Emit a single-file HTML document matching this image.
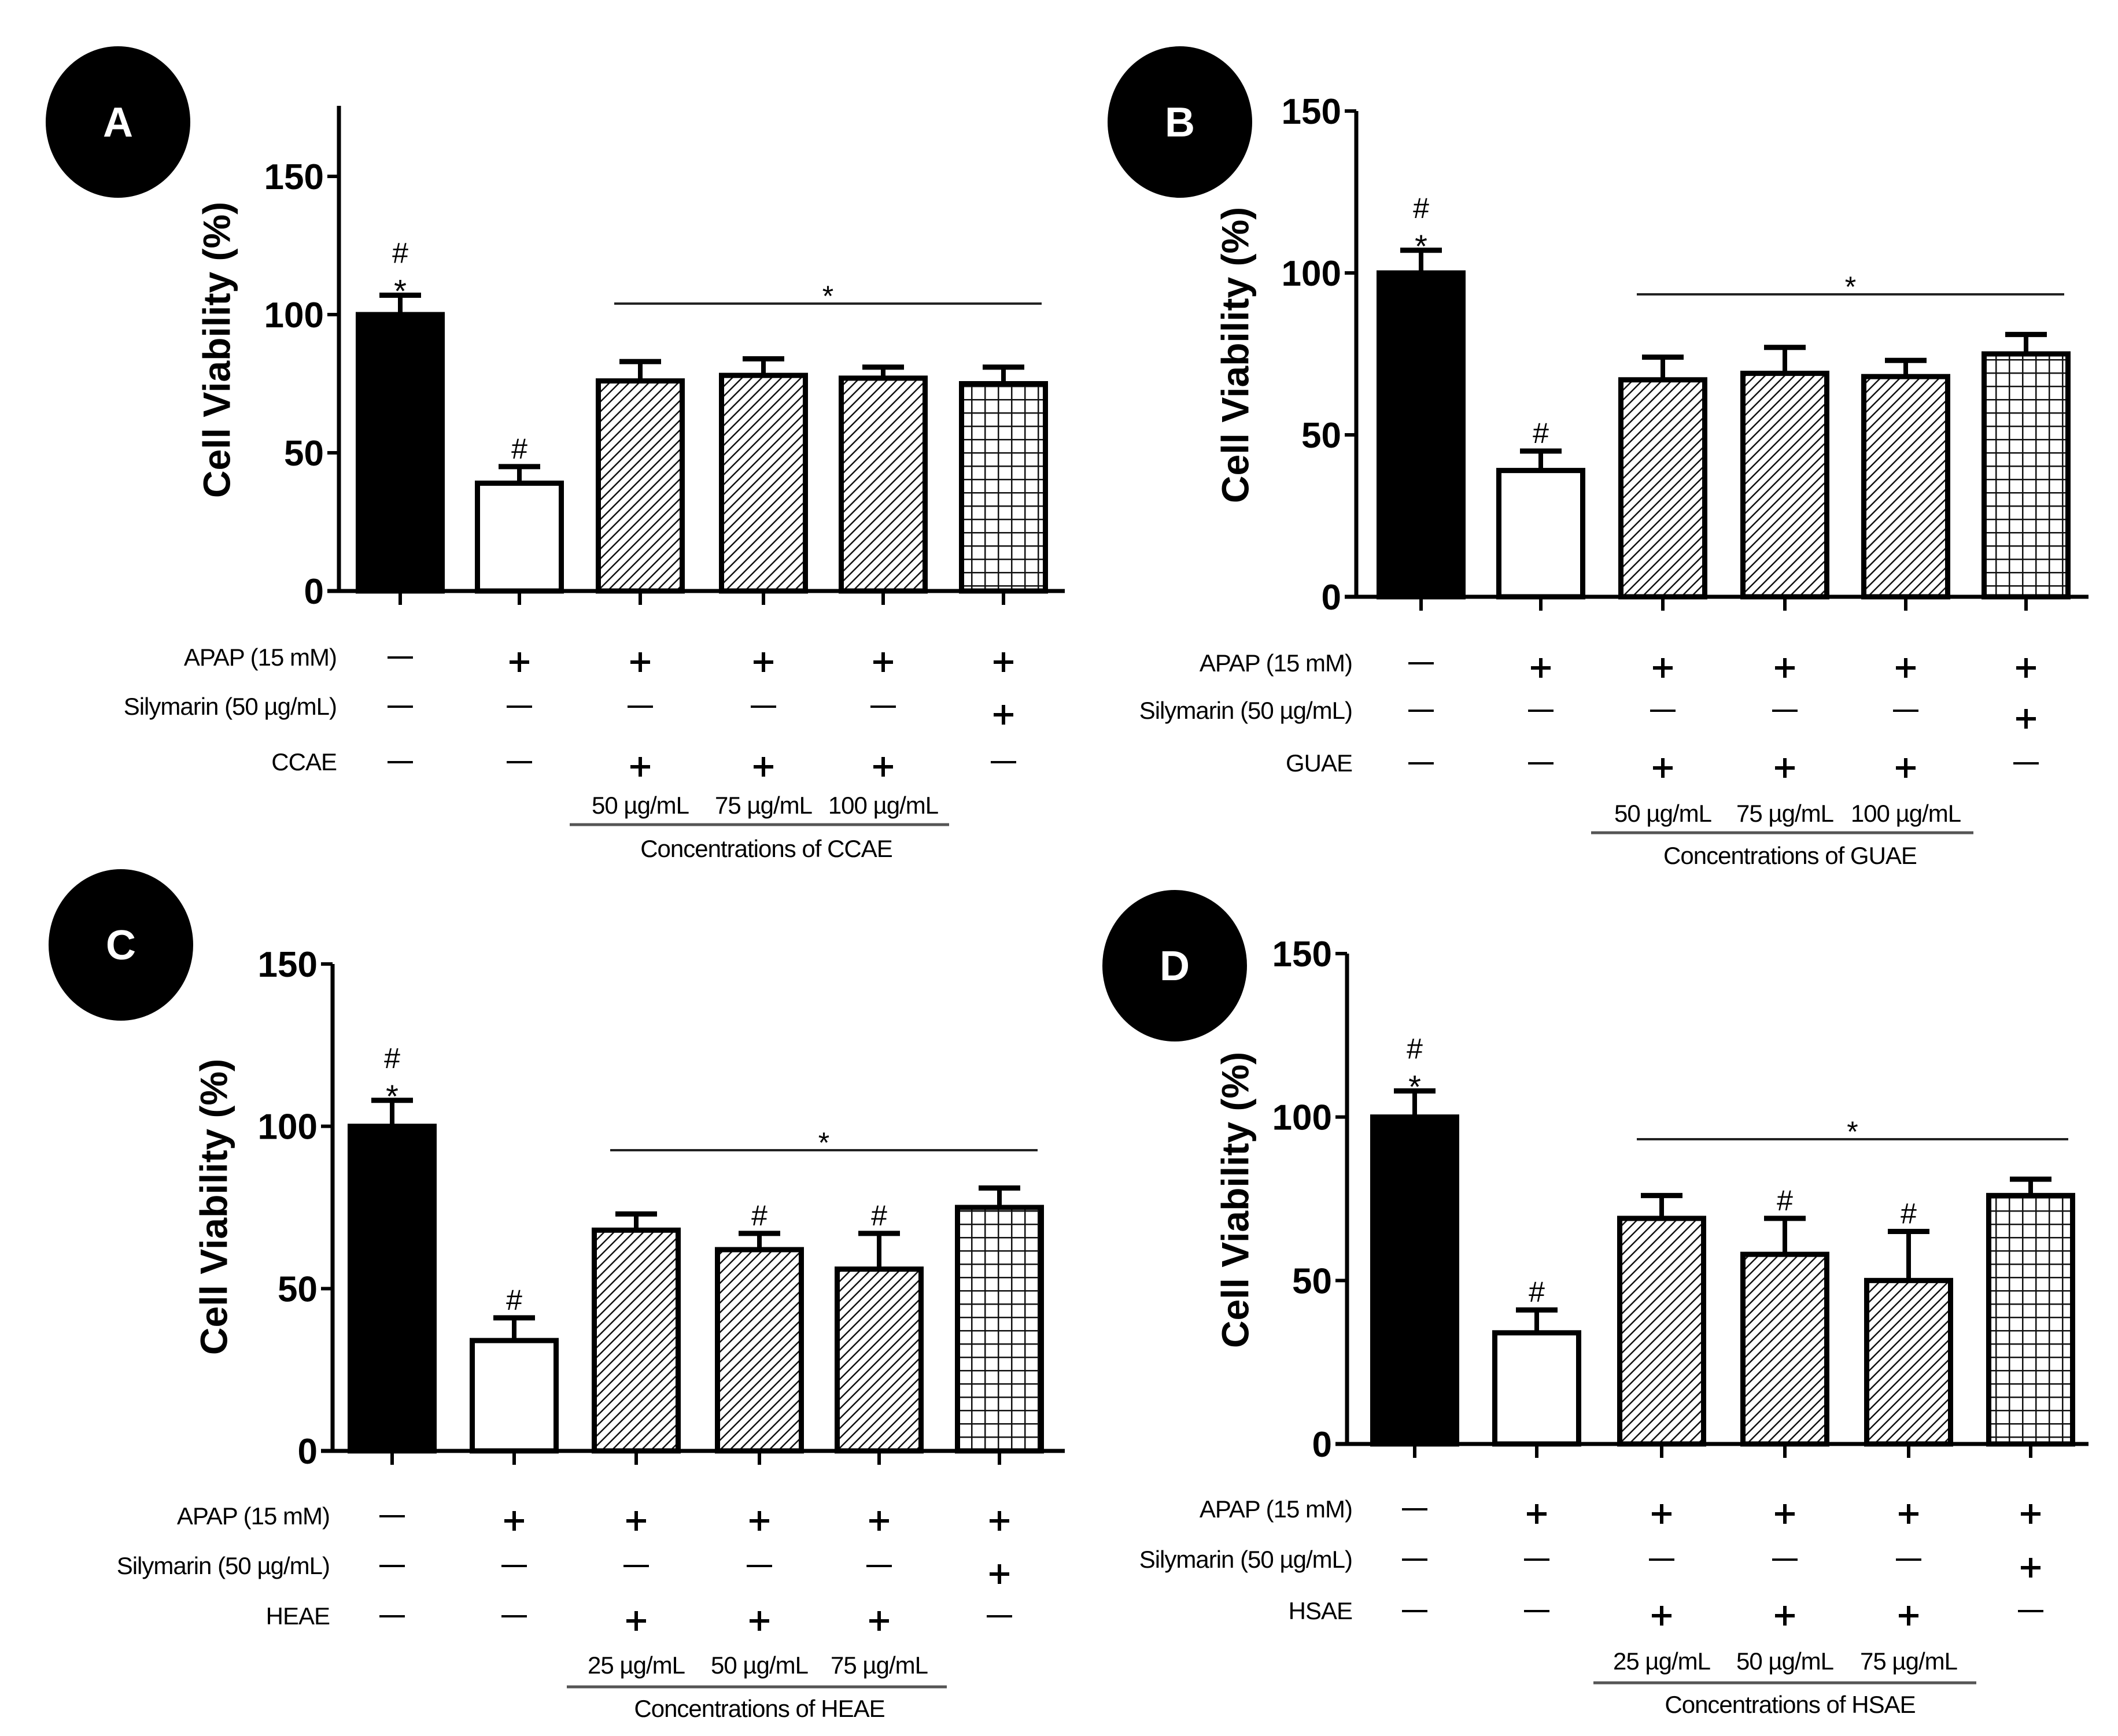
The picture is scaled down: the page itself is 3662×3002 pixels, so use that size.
<!DOCTYPE html>
<html><head><meta charset="utf-8"><style>
html,body{margin:0;padding:0;background:#fff}
svg{display:block}
text{font-family:"Liberation Sans",Arial,sans-serif}
</style></head><body>
<svg id="fig" width="3662" height="3002" viewBox="0 0 3662 3002" xmlns="http://www.w3.org/2000/svg">
<defs>
<pattern id="hatch" patternUnits="userSpaceOnUse" width="12" height="12" patternTransform="rotate(45)">
<rect width="12" height="12" fill="#fff"/><line x1="0" y1="0" x2="0" y2="12" stroke="#111" stroke-width="5"/></pattern>
<pattern id="grid" patternUnits="userSpaceOnUse" width="23" height="23">
<rect width="23" height="23" fill="#fff"/><path d="M0 0H23M0 0V23" stroke="#111" stroke-width="5"/></pattern>
</defs>
</svg>
<script>
const categories=["control","apap","ext1","ext2","ext3","silymarin"];
const valuesA=[100,39,76,78,77,75];
const errorsA=[7,6,7,6,4,6];
const valuesB=[100,39,67,69,68,75];
const errorsB=[7,6,7,8,5,6];
const valuesC=[100,34,68,62,56,75];
const errorsC=[8,7,5,5,11,6];
const valuesD=[100,34,69,58,50,76];
const errorsD=[8,7,7,11,15,5];
const yTicks=[0,50,100,150];
const fills=["#000","#fff","url(#hatch)","url(#hatch)","url(#hatch)","url(#grid)"];
const apapRow=["-","+","+","+","+","+"];
const silyRow=["-","-","-","-","-","+"];
const extRow=["-","-","+","+","+","-"];

const svg=document.getElementById('fig');
const NS="http://www.w3.org/2000/svg";
function mk(tag,attrs,parent){const e=document.createElementNS(NS,tag);for(const k in attrs)e.setAttribute(k,attrs[k]);(parent||svg).appendChild(e);return e;}

const panels=[
 {id:"a",letter:"A",cx:204,cy:211,ax:586,axTop:183,y0:1022,y150:305,xEnd:1841,centers:[692,898,1107,1320,1527,1735],vals:valuesA,errs:errorsA,
  hash:[1,1,0,0,0,0],star:[1,0,0,0,0,0],ylab:[380,605],rows:[1137,1222,1318],labX:582,ext:"CCAE",conc:["50 µg/mL","75 µg/mL","100 µg/mL"],concY:1393,ul:[985,1641,1426],concT:[1325,1468],sig:[1062,1801,525]},
 {id:"b",letter:"B",cx:2040,cy:211,ax:2345,axTop:192,y0:1032,y150:192,xEnd:3611,centers:[2457,2664,2875,3086,3295,3503],vals:valuesB,errs:errorsB,
  hash:[1,1,0,0,0,0],star:[1,0,0,0,0,0],ylab:[2141,614],rows:[1147,1229,1320],labX:2338,ext:"GUAE",conc:["50 µg/mL","75 µg/mL","100 µg/mL"],concY:1407,ul:[2751,3412,1440],concT:[3095,1480],sig:[2830,3569,509]},
 {id:"c",letter:"C",cx:209,cy:1634,ax:575,axTop:1667,y0:2509,y150:1667,xEnd:1841,centers:[678,889,1100,1313,1520,1728],vals:valuesC,errs:errorsC,
  hash:[1,1,0,1,1,0],star:[1,0,0,0,0,0],ylab:[375,2087],rows:[2622,2708,2795],labX:570,ext:"HEAE",conc:["25 µg/mL","50 µg/mL","75 µg/mL"],concY:2880,ul:[980,1637,2917],concT:[1313,2955],sig:[1055,1794,1989]},
 {id:"d",letter:"D",cx:2031,cy:1670,ax:2329,axTop:1649,y0:2497,y150:1649,xEnd:3611,centers:[2446,2657,2873,3086,3300,3511],vals:valuesD,errs:errorsD,
  hash:[1,1,0,1,1,0],star:[1,0,0,0,0,0],ylab:[2141,2075],rows:[2610,2697,2786],labX:2338,ext:"HSAE",conc:["25 µg/mL","50 µg/mL","75 µg/mL"],concY:2873,ul:[2755,3417,2910],concT:[3095,2948],sig:[2830,3576,1970]}
];

panels.forEach(p=>{
 const g=mk('g',{});
 
 
 const y=v=>p.y0+(p.y150-p.y0)*v/150;
 const bw=145;
 const b=mk('ellipse',{cx:p.cx,cy:p.cy,rx:125,ry:131,fill:'#000'},g);
 
 
 const bt=mk('text',{x:p.cx,y:p.cy+25,'text-anchor':'middle','font-size':72,'font-weight':'bold',fill:'#fff'},g);
 bt.textContent=p.letter;
 
 
 p.vals.forEach((v,i)=>{
  const cx=p.centers[i];
  const top=y(v), et=y(v+p.errs[i]);
  const el=mk('line',{x1:cx,x2:cx,y1:top,y2:et,stroke:'#000','stroke-width':8},g);
  
  
  mk('line',{x1:cx-36,x2:cx+36,y1:et,y2:et,stroke:'#000','stroke-width':9},g);
  const r=mk('rect',{x:cx-bw/2,y:top,width:bw,height:p.y0-top,fill:fills[i],stroke:'#000','stroke-width':9},g);
  
  
  mk('line',{x1:cx,x2:cx,y1:p.y0,y2:p.y0+24,stroke:'#000','stroke-width':6},g);
  let ay=et-14;
  if(p.star[i]){const s=mk('text',{x:cx,y:ay+26,'text-anchor':'middle','font-size':56},g);s.textContent='*';
   ay-=42;}
  if(p.hash[i]){const h=mk('text',{x:cx,y:ay,'text-anchor':'middle','font-size':50},g);h.textContent='#';
   }
 });
 const ya=mk('line',{x1:p.ax,x2:p.ax,y1:p.axTop,y2:p.y0+3,stroke:'#000','stroke-width':7},g);
 
 const xa=mk('line',{x1:p.ax-20,x2:p.xEnd,y1:p.y0,y2:p.y0,stroke:'#000','stroke-width':7},g);
 
 yTicks.forEach(t=>{
  mk('line',{x1:p.ax-20,x2:p.ax,y1:y(t),y2:y(t),stroke:'#000','stroke-width':6},g);
  const tl=mk('text',{x:p.ax-26,y:y(t)+22,'text-anchor':'end','font-size':62,'font-weight':'bold'},g);
  tl.textContent=t;
  
 });
 const yl=mk('text',{x:p.ylab[0],y:p.ylab[1],'text-anchor':'middle','font-size':66,'font-weight':'bold',transform:`rotate(-90 ${p.ylab[0]} ${p.ylab[1]})`,'dominant-baseline':'middle'},g);
 yl.textContent='Cell Viability (%)';
 
 const sl=mk('line',{x1:p.sig[0],x2:p.sig[1],y1:p.sig[2],y2:p.sig[2],stroke:'#222','stroke-width':4},g);
 
 const st=mk('text',{x:(p.sig[0]+p.sig[1])/2,y:p.sig[2]+4,'text-anchor':'middle','font-size':50},g);st.textContent='*';
 
 const rowLabels=['APAP (15 mM)','Silymarin (50 µg/mL)',p.ext];
 const rowData=[apapRow,silyRow,extRow];
 rowLabels.forEach((lab,ri)=>{
  const ry=p.rows[ri];
  const t=mk('text',{x:p.labX,y:ry+14,'text-anchor':'end','font-size':42,'letter-spacing':-1},g);
  t.textContent=lab;
  
  rowData[ri].forEach((s,i)=>{
   const cx=p.centers[i];
   if(s==='+'){const yy=ry+(ri===1?14:8);
    mk('path',{d:`M${cx-17} ${yy}H${cx+17}M${cx} ${yy-17}V${yy+17}`,stroke:'#000','stroke-width':6,fill:'none'},g);}
   else mk('line',{x1:cx-22,x2:cx+22,y1:ry,y2:ry,stroke:'#000','stroke-width':4},g);
  });
 });
 p.conc.forEach((c,i)=>{
  const t=mk('text',{x:p.centers[2+i],y:p.concY+14,'text-anchor':'middle','font-size':42,'letter-spacing':-1},g);
  t.textContent=c;
  
 });
 const ul=mk('line',{x1:p.ul[0],x2:p.ul[1],y1:p.ul[2],y2:p.ul[2],stroke:'#555','stroke-width':5},g);
 
 const ct=mk('text',{x:p.concT[0],y:p.concT[1]+14,'text-anchor':'middle','font-size':42,'letter-spacing':-1},g);
 ct.textContent='Concentrations of '+p.ext;
 
});
</script>
</body></html>
